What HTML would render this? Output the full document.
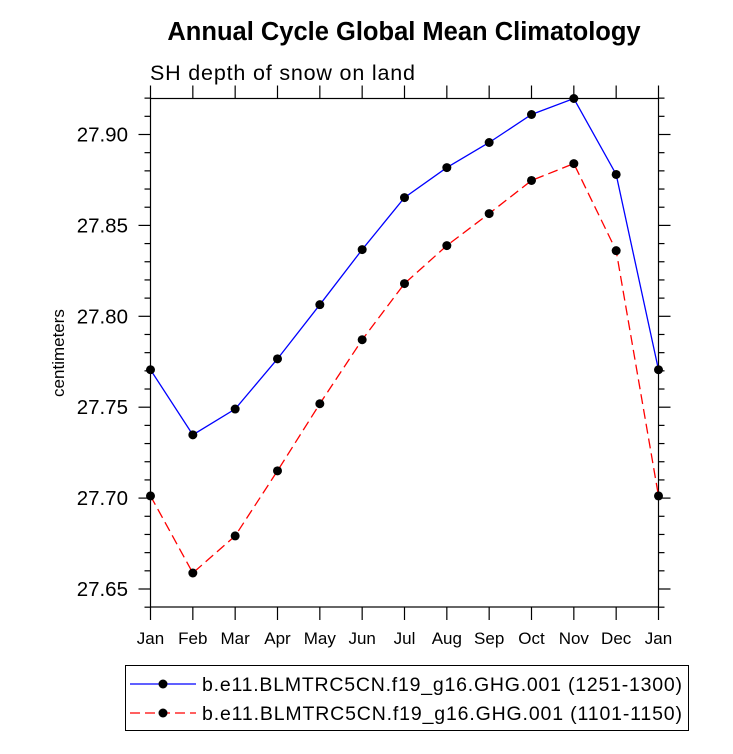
<!DOCTYPE html>
<html><head><meta charset="utf-8"><style>body{margin:0;background:#fff}svg{display:block}</style></head>
<body>
<svg id="chart" width="733" height="754" xmlns="http://www.w3.org/2000/svg" font-family="Liberation Sans, sans-serif">
<text x="404" y="40" text-anchor="middle" font-size="25.5" font-weight="bold">Annual Cycle Global Mean Climatology</text>
<text x="150" y="80" font-size="21.5" textLength="265">SH depth of snow on land</text>
<text transform="translate(64,353) rotate(-90)" text-anchor="middle" font-size="17">centimeters</text>
<g id="axes"></g><g id="marks"></g>
<rect x="125.5" y="665.5" width="563" height="65" fill="none" stroke="#000" stroke-width="1"/>
<line x1="130" y1="684" x2="196" y2="684" stroke="#00f" stroke-width="1.3"/>
<circle cx="163" cy="684" r="4.5" fill="#000"/>
<text x="202" y="691" textLength="480" font-size="19.5">b.e11.BLMTRC5CN.f19_g16.GHG.001 (1251-1300)</text>
<line x1="130" y1="713" x2="196" y2="713" stroke="#f00" stroke-width="1.3" stroke-dasharray="10,5"/>
<circle cx="163" cy="713" r="4.5" fill="#000"/>
<text x="202" y="720" textLength="480" font-size="19.5">b.e11.BLMTRC5CN.f19_g16.GHG.001 (1101-1150)</text>
</svg>
<script>
const months=["Jan","Feb","Mar","Apr","May","Jun","Jul","Aug","Sep","Oct","Nov","Dec","Jan"];
const blueVals=[27.7706,27.7348,27.749,27.7766,27.8064,27.8367,27.8653,27.8818,27.8956,27.911,27.9198,27.878,27.7706];
const redVals=[27.7012,27.6588,27.6792,27.715,27.7519,27.7871,27.818,27.8389,27.8565,27.8747,27.884,27.8361,27.7012];
const yTicks=[27.65,27.70,27.75,27.80,27.85,27.90];
const yMin=27.6401,yMax=27.9198;
const L=150.5,R=658.5,T=98.5,B=607;
const X=i=>L+(R-L)*i/12;
const Y=v=>B-(B-T)*(v-yMin)/(yMax-yMin);
const NS="http://www.w3.org/2000/svg";
function mk(parent,tag,attrs){const e=document.createElementNS(NS,tag);for(const k in attrs)e.setAttribute(k,attrs[k]);document.getElementById(parent).appendChild(e);return e;}
let f=mk("axes","rect",{x:L,y:T,width:R-L,height:B-T,fill:"none",stroke:"#000","stroke-width":1.2});


months.forEach((m,i)=>{const x=X(i);
mk("axes","line",{x1:x,y1:B,x2:x,y2:B+13,stroke:"#000","stroke-width":1.2});
mk("axes","line",{x1:x,y1:T,x2:x,y2:T-13,stroke:"#000","stroke-width":1.2});
const t=mk("axes","text",{x:x,y:B+37,"text-anchor":"middle","font-size":17});t.textContent=m;

});
for(let v=27.64;v<=27.92+1e-9;v+=0.01){const y=Y(v);if(y<T-0.5||y>B+0.5)continue;
const maj=yTicks.some(t=>Math.abs(t-v)<1e-6);const len=maj?12:6;
mk("axes","line",{x1:L-len,y1:y,x2:L,y2:y,stroke:"#000","stroke-width":1.2});
mk("axes","line",{x1:R,y1:y,x2:R+len,y2:y,stroke:"#000","stroke-width":1.2});}
yTicks.forEach(v=>{const t=mk("axes","text",{x:128,y:Y(v)+7,"text-anchor":"end","font-size":20.5});t.textContent=v.toFixed(2);

});
function series(vals,color,dash,name){
const p=mk("marks","polyline",{points:vals.map((v,i)=>X(i)+","+Y(v)).join(" "),fill:"none",stroke:color,"stroke-width":1.3,"stroke-dasharray":dash});


vals.forEach((v,i)=>{const c=mk("marks","circle",{cx:X(i),cy:Y(v),r:4.5,fill:"#000"});

});}
series(redVals,"#f00","10,5","red-series");
series(blueVals,"#00f","none","blue-series");
</script>
</body></html>
